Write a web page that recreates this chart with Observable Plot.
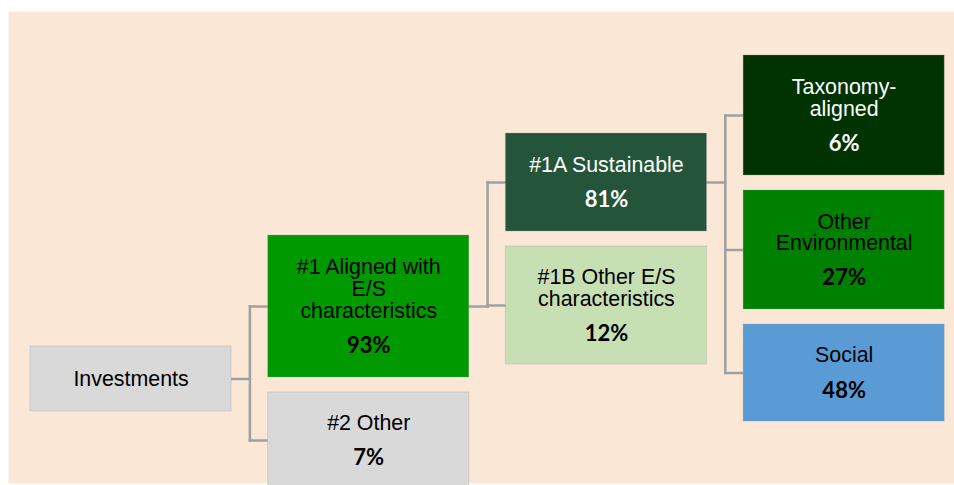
<!DOCTYPE html>
<html>
<head>
<meta charset="utf-8">
<script src="https://cdn.jsdelivr.net/npm/d3@7"></script>
<script src="https://cdn.jsdelivr.net/npm/@observablehq/plot@0.6"></script>
<style>
  html, body { margin: 0; padding: 0; background: #ffffff; }
</style>
</head>
<body>
<div id="chart"></div>
<script>
// ---- data ----
const labels = [
  "Investments",
  "#1 Aligned with\nE/S\ncharacteristics",
  "#2 Other",
  "#1A Sustainable",
  "#1B Other E/S\ncharacteristics",
  "Taxonomy-\naligned",
  "Other\nEnvironmental",
  "Social"
];
const shares = [null, 93, 7, 81, 12, 6, 27, 48];
const parents = [null, 0, 0, 1, 1, 3, 3, 3];

// ---- styles ----
const fills = ["#d9d9d9", "#009900", "#d9d9d9", "#24553a", "#c6e0b4", "#003300", "#008000", "#5b9bd5"];
const inks  = ["#000000", "#000000", "#000000", "#ffffff", "#000000", "#ffffff", "#000000", "#000000"];

// ---- layout (box centre and height, in pixels on the identity y scale) ----
const centers = [378.5, 306, 440, 182, 305, 115, 249.5, 372.5];
const heights = [65, 142, 96, 98, 118, 120, 119, 97];
const boxW = 0.846;      // box width in column units
const colStep = 237.7;   // px per column
const col0 = 30;         // px of column 0 left edge
const lineStep = 21.6;   // px between label lines
const pctGap = 35;       // px from last label line to percentage
const labelSize = 21.4;

const depthOf = i => parents[i] == null ? 0 : 1 + depthOf(parents[i]);

const nodes = labels.map((label, i) => {
  const n = label.split("\n").length;
  const hasPct = shares[i] != null;
  const total = (n - 1) * lineStep + (hasPct ? pctGap : 0);
  const first = centers[i] - total / 2;
  return {
    i, label, share: shares[i], parent: parents[i], depth: depthOf(i),
    fill: fills[i], ink: inks[i],
    y1: centers[i] - heights[i] / 2, y2: centers[i] + heights[i] / 2, yc: centers[i],
    labelY: first + (n - 1) * lineStep / 2,
    pctY: first + (n - 1) * lineStep + pctGap,
    pct: hasPct ? shares[i] + "%" : null
  };
});

// connectors (elbow links)
const links = [];
for (const p of nodes) {
  const kids = nodes.filter(n => n.parent === p.i);
  if (!kids.length) continue;
  const bus = p.depth + boxW + (1 - boxW) / 2;
  links.push({x1: p.depth + boxW, y1: p.yc, x2: bus, y2: p.yc});
  const ys = kids.map(k => k.yc).concat([p.yc]);
  links.push({x1: bus, y1: d3.min(ys), x2: bus, y2: d3.max(ys)});
  for (const k of kids) links.push({x1: bus, y1: k.yc, x2: k.depth, y2: k.yc});
}

const W = 954, H = 485;
const mL = 8, mT = 11, mR = 0, mB = 2;

const chart = Plot.plot({
  width: W, height: H,
  marginLeft: mL, marginTop: mT, marginRight: mR, marginBottom: mB,
  x: {type: "linear", domain: [(mL - col0) / colStep, (W - mR - col0) / colStep], axis: null},
  y: {type: "identity", axis: null},
  style: {background: "transparent", overflow: "visible"},
  marks: [
    Plot.frame({fill: "#fae7d5", stroke: null}),
    Plot.link(links, {x1: "x1", y1: "y1", x2: "x2", y2: "y2", stroke: "#a0a0a0", strokeWidth: 2.5, strokeLinecap: "square"}),
    Plot.rect(nodes, {x1: "depth", x2: d => d.depth + boxW, y1: "y1", y2: "y2", fill: "fill", stroke: "#9a9a9a", strokeOpacity: 0.3, strokeWidth: 1}),
    Plot.text(nodes, {x: d => d.depth + boxW / 2, y: "labelY", text: "label", fill: "ink",
      fontFamily: "Liberation Sans, Arial, sans-serif", fontSize: labelSize, lineHeight: lineStep / labelSize, textAnchor: "middle"}),
    Plot.text(nodes.filter(d => d.pct), {x: d => d.depth + boxW / 2, y: "pctY", text: "pct", fill: "ink",
      fontFamily: "Lato, Open Sans, sans-serif", fontWeight: "bold", fontSize: 22, textAnchor: "middle"})
  ]
});
document.getElementById("chart").appendChild(chart);
</script>
</body>
</html>
